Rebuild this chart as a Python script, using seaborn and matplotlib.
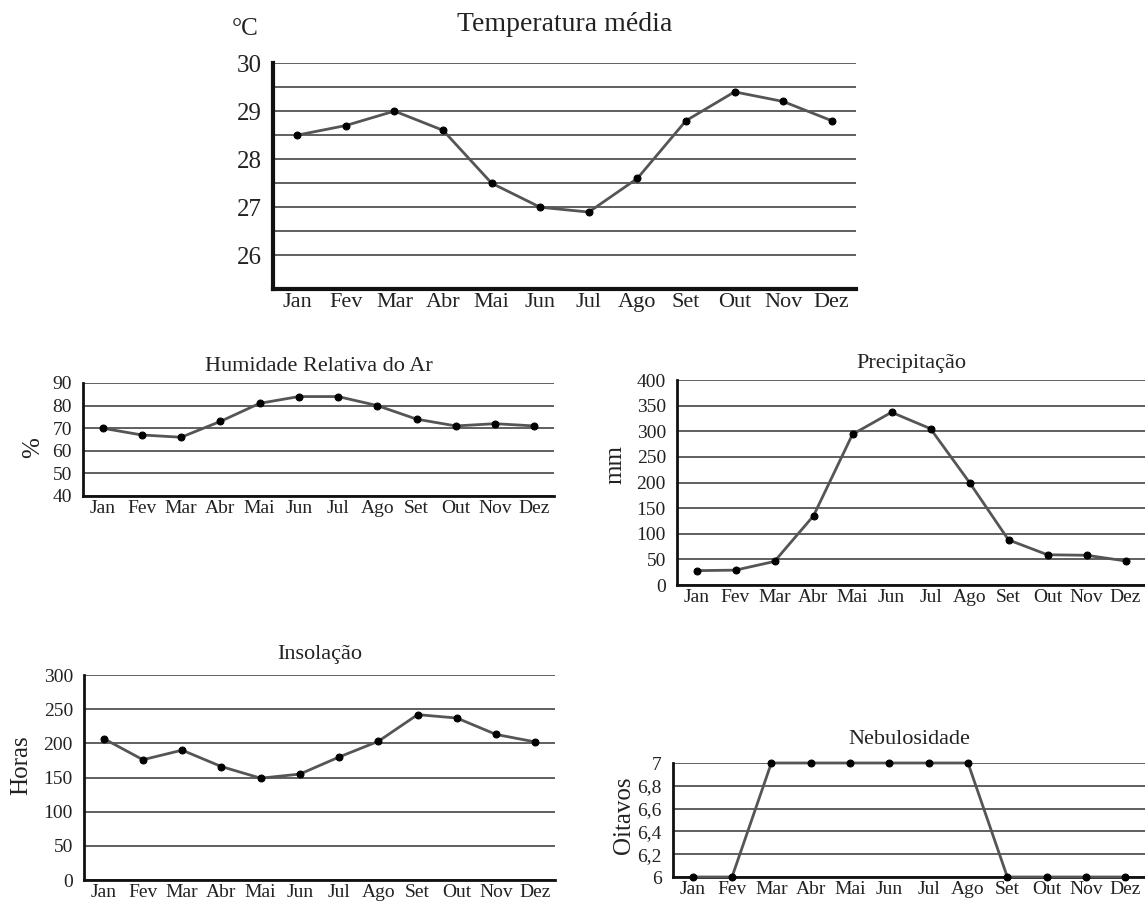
import numpy as np
import matplotlib
matplotlib.use("Agg")
import matplotlib.pyplot as plt
import seaborn as sns

# dados mensais
months = ["Jan", "Fev", "Mar", "Abr", "Mai", "Jun", "Jul", "Ago", "Set", "Out", "Nov", "Dez"]
temperatura = [28.5, 28.7, 29.0, 28.6, 27.5, 27.0, 26.9, 27.6, 28.8, 29.4, 29.2, 28.8]
humidade = [70, 67, 66, 73, 81, 84, 84, 80, 74, 71, 72, 71]
precipitacao = [28, 29, 46, 135, 294, 337, 305, 200, 88, 59, 58, 47]
insolacao = [207, 176, 190, 166, 149, 155, 180, 203, 242, 237, 213, 202]
nebulosidade = [6, 6, 7, 7, 7, 7, 7, 7, 6, 6, 6, 6]

temp_ticks = [26, 26.5, 27, 27.5, 28, 28.5, 29, 29.5, 30]
temp_labels = ["26", "", "27", "", "28", "", "29", "", "30"]
hum_ticks = [40, 50, 60, 70, 80, 90]
prec_ticks = [0, 50, 100, 150, 200, 250, 300, 350, 400]
ins_ticks = [0, 50, 100, 150, 200, 250, 300]
neb_ticks = [6, 6.2, 6.4, 6.6, 6.8, 7]
neb_labels = ["6", "6,2", "6,4", "6,6", "6,8", "7"]

sns.set_style("white")
plt.rcParams["font.family"] = ["Liberation Serif", "DejaVu Serif"]
plt.rcParams["text.color"] = "#222222"

W, H = 1145, 905
fig = plt.figure(figsize=(W / 100, H / 100), dpi=100)


def box(left, right, top, bottom):
    return [left / W, 1 - bottom / H, (right - left) / W, (bottom - top) / H]


def painel(rect, vals, ylim, yticks, ylabels, title, title_pad, fs_tick, fs_month, fs_title, spine_w):
    ax = fig.add_axes(rect)
    pos = np.arange(len(months))
    sns.lineplot(x=pos, y=vals, ax=ax, color="#555555", linewidth=2.0, marker="o",
                 markersize=5, markerfacecolor="black", markeredgecolor="black",
                 clip_on=False, zorder=3)
    ax.set_xlim(-0.5, 11.5)
    ax.set_ylim(*ylim)
    ax.set_xticks(np.arange(-0.5, 12, 1))
    ax.set_xticklabels([])
    ax.set_xticks(pos, minor=True)
    ax.set_xticklabels(months, minor=True, fontsize=fs_month, color="#222222")
    ax.tick_params(axis="x", which="minor", length=0, pad=3)
    ax.tick_params(axis="x", which="major", direction="out", length=6, width=1.2, color="#333333")
    ax.set_yticks(yticks)
    ax.set_yticklabels(ylabels, fontsize=fs_tick, color="#222222")
    ax.tick_params(axis="y", direction="out", length=5, width=1.2, color="#333333", pad=3)
    ax.grid(axis="y", color="#444444", linewidth=1.2)
    ax.grid(axis="x", visible=False)
    ax.set_axisbelow(True)
    for s in ["top", "right"]:
        ax.spines[s].set_visible(False)
    for s in ["left", "bottom"]:
        ax.spines[s].set_color("#111111")
        ax.spines[s].set_linewidth(spine_w)
    ax.set_xlabel("")
    ax.set_ylabel("")
    ax.set_title(title, fontsize=fs_title, pad=title_pad, color="#222222")
    return ax


painel(box(273, 856, 63, 289), temperatura, (25.3, 30), temp_ticks, temp_labels,
       "Temperatura média", 23, 18, 16, 20, 3)
fig.text(245 / W, 1 - 35 / H, "°C", fontsize=18, ha="center", va="baseline")

painel(box(83, 554, 383, 496), humidade, (40, 90), hum_ticks, [str(v) for v in hum_ticks],
       "Humidade Relativa do Ar", 8.5, 14, 14, 16, 2)
fig.text(33 / W, 1 - 448 / H, "%", fontsize=18, rotation=90, ha="center", va="center")

painel(box(677, 1145, 380, 585), precipitacao, (0, 400), prec_ticks, [str(v) for v in prec_ticks],
       "Precipitação", 8.5, 14, 14, 16, 2)
fig.text(615 / W, 1 - 464 / H, "mm", fontsize=18, rotation=90, ha="center", va="center")

painel(box(84, 555, 675, 880), insolacao, (0, 300), ins_ticks, [str(v) for v in ins_ticks],
       "Insolação", 11.5, 14, 14, 16, 2)
fig.text(21 / W, 1 - 765 / H, "Horas", fontsize=18, rotation=90, ha="center", va="center")

painel(box(673, 1145, 763, 877), nebulosidade, (6, 7), neb_ticks, neb_labels,
       "Nebulosidade", 13.5, 14, 14, 16, 2)
fig.text(624 / W, 1 - 815 / H, "Oitavos", fontsize=18, rotation=90, ha="center", va="center")

fig.savefig("out.png", dpi=100, facecolor="white")
